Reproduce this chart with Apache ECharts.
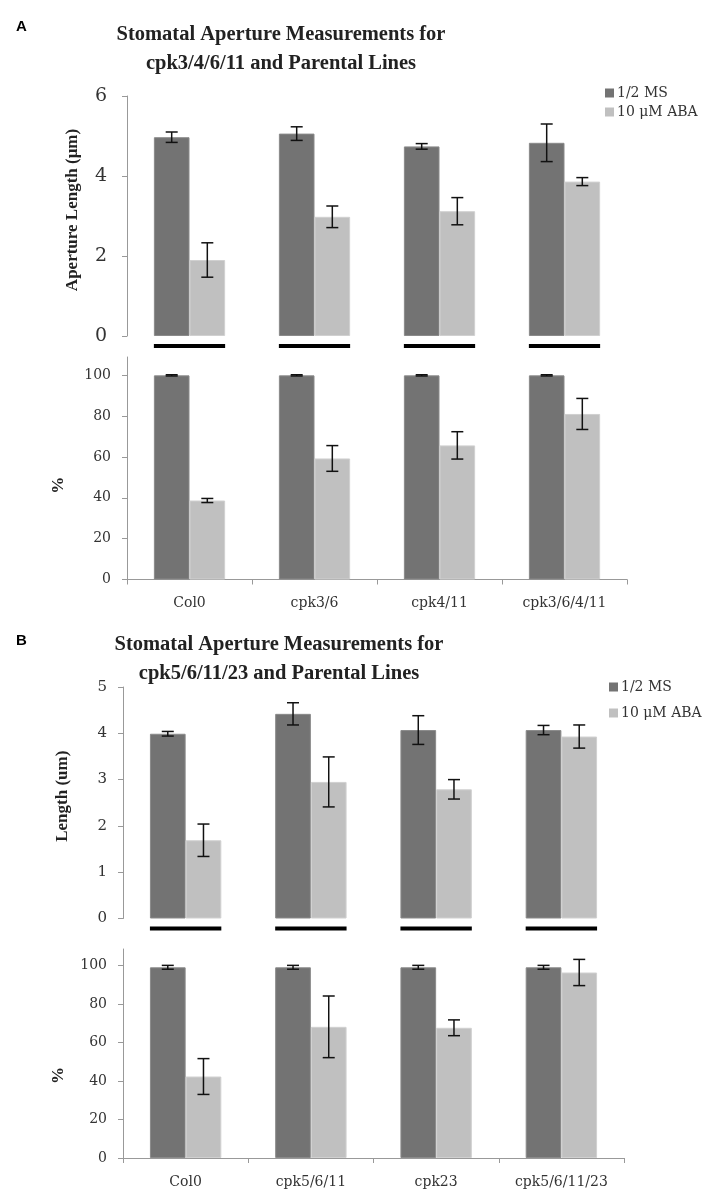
<!DOCTYPE html>
<html>
<head>
<meta charset="utf-8">
<script src="https://cdn.jsdelivr.net/npm/echarts@6/dist/echarts.min.js"></script>
<style>
html,body{margin:0;padding:0;background:#fff;}
#chart{width:702px;height:1189px;}
</style>
</head>
<body>
<div id="chart"></div>
<script>
// ---- Data ----
const seriesNames = ['1/2 MS', '10 \u03bcM ABA'];

const categoriesA = ['Col0', 'cpk3/6', 'cpk4/11', 'cpk3/6/4/11'];
const msLengthA = [4.97, 5.06, 4.74, 4.83];
const msLengthErrA = [0.13, 0.17, 0.07, 0.47];
const abaLengthA = [1.90, 2.98, 3.12, 3.86];
const abaLengthErrA = [0.43, 0.27, 0.34, 0.10];
const msPctA = [100, 100, 100, 100];
const msPctErrA = [0.3, 0.3, 0.3, 0.3];
const abaPctA = [38.7, 59.3, 65.7, 81.1];
const abaPctErrA = [1.0, 6.3, 6.7, 7.6];

const categoriesB = ['Col0', 'cpk5/6/11', 'cpk23', 'cpk5/6/11/23'];
const msLengthB = [3.99, 4.42, 4.07, 4.07];
const msLengthErrB = [0.05, 0.24, 0.31, 0.10];
const abaLengthB = [1.69, 2.95, 2.79, 3.93];
const abaLengthErrB = [0.35, 0.54, 0.21, 0.25];
const msPctB = [99, 99, 99, 99];
const msPctErrB = [1, 1, 1, 1];
const abaPctB = [42.3, 68.1, 67.6, 96.3];
const abaPctErrB = [9.3, 16.0, 4.1, 6.8];

const pctTicks = [0, 20, 40, 60, 80, 100];

// ---- Styles ----
const DARK = '#737373';
const LIGHT = '#c0c0c0';
const GAP = 0.43;
const SERIF = 'DejaVu Serif';
const TITLE_FONT = 'Liberation Serif';

const chart = echarts.init(document.getElementById('chart'));

function errSeries(gridIdx, vals, errs, side) {
  return {
    type: 'custom',
    xAxisIndex: gridIdx, yAxisIndex: gridIdx,
    z: 5, silent: true, clip: false,
    data: vals.map((v, i) => [i, v, errs[i], side]),
    renderItem: function (params, api) {
      const cat = api.value(0), v = api.value(1), e = api.value(2), s = api.value(3);
      const band = api.size([1, 0])[0];
      const bw = band * (1 - GAP) / 2;
      const cx = api.coord([cat, v])[0] + (s === 0 ? -bw / 2 : bw / 2);
      const yt = api.coord([cat, v + e])[1];
      const yb = api.coord([cat, v - e])[1];
      const hw = 6;
      const st = { stroke: '#111', lineWidth: 1.5 };
      return {
        type: 'group',
        children: [
          { type: 'line', shape: { x1: cx, y1: yt, x2: cx, y2: yb }, style: st },
          { type: 'line', shape: { x1: cx - hw, y1: yt, x2: cx + hw, y2: yt }, style: st },
          { type: 'line', shape: { x1: cx - hw, y1: yb, x2: cx + hw, y2: yb }, style: st }
        ]
      };
    }
  };
}

function underlineSeries(gridIdx, cats) {
  return {
    type: 'custom',
    xAxisIndex: gridIdx, yAxisIndex: gridIdx,
    silent: true, clip: false,
    data: cats.map((c, i) => [i, 0]),
    renderItem: function (params, api) {
      const p = api.coord([api.value(0), 0]);
      const band = api.size([1, 0])[0];
      const w = band * (1 - GAP);
      return { type: 'rect', shape: { x: p[0] - w / 2, y: p[1] + 8, width: w, height: 4 }, style: { fill: '#000' } };
    }
  };
}

function barSeries(gridIdx, name, vals, color) {
  return {
    type: 'bar', name: name,
    xAxisIndex: gridIdx, yAxisIndex: gridIdx,
    data: vals,
    barGap: '0%', barCategoryGap: (GAP * 100) + '%',
    itemStyle: { color: color, borderColor: color === DARK ? '#8a8a8a' : '#d0d0d0', borderWidth: 1 },
    silent: true
  };
}

function xAxis(gridIdx, cats, showAxis) {
  return {
    type: 'category', gridIndex: gridIdx, data: cats,
    show: showAxis,
    axisLine: { show: true, lineStyle: { color: '#999', width: 1 } },
    axisTick: { show: true, length: 5, lineStyle: { color: '#999' } },
    axisLabel: { color: '#333', fontFamily: SERIF, fontSize: 14, margin: 17 }
  };
}

function yAxis(gridIdx, opts) {
  const base = {
    type: 'value', gridIndex: gridIdx, min: 0,
    splitLine: { show: false },
    axisLine: { show: true, lineStyle: { color: '#999', width: 1 } },
    axisTick: { show: true, length: 5, inside: false, lineStyle: { color: '#999' } },
    axisLabel: { color: '#333', fontFamily: SERIF, fontSize: 14, margin: 15 },
    nameLocation: 'middle',
    nameRotate: 90,
    nameTextStyle: { fontFamily: TITLE_FONT, fontWeight: 'bold', fontSize: 17, color: '#222' }
  };
  return Object.assign(base, opts);
}

const legendText = { fontFamily: SERIF, fontSize: 14, color: '#333', padding: [0, 0, 0, -2] };

const option = {
  animation: false,
  backgroundColor: '#fff',
  title: [
    { text: 'A', left: 11, top: 14, textStyle: { fontFamily: 'Liberation Sans', fontWeight: 'bold', fontSize: 15, color: '#000' } },
    { text: 'Stomatal Aperture Measurements for\ncpk3/4/6/11 and Parental Lines', left: 276, top: 15, textAlign: 'center',
      textStyle: { fontFamily: TITLE_FONT, fontWeight: 'bold', fontSize: 20.5, lineHeight: 29, color: '#222' } },
    { text: 'B', left: 11, top: 628, textStyle: { fontFamily: 'Liberation Sans', fontWeight: 'bold', fontSize: 15, color: '#000' } },
    { text: 'Stomatal Aperture Measurements for\ncpk5/6/11/23 and Parental Lines', left: 274, top: 625, textAlign: 'center',
      textStyle: { fontFamily: TITLE_FONT, fontWeight: 'bold', fontSize: 20.5, lineHeight: 29, color: '#222' } }
  ],
  legend: [
    { data: seriesNames, orient: 'vertical', left: 600, top: 81, icon: 'rect', itemWidth: 9, itemHeight: 9, itemGap: 5,
      itemStyle: { borderWidth: 0 }, textStyle: legendText },
    { data: seriesNames, orient: 'vertical', left: 604, top: 675, icon: 'rect', itemWidth: 9, itemHeight: 9, itemGap: 12,
      itemStyle: { borderWidth: 0 }, textStyle: legendText }
  ],
  grid: [
    { left: 127, top: 96, width: 500, height: 240 },
    { left: 127, top: 357, width: 500, height: 222.5 },
    { left: 123, top: 687, width: 501, height: 231.5 },
    { left: 123, top: 949, width: 501, height: 209 }
  ],
  xAxis: [
    xAxis(0, categoriesA, false),
    xAxis(1, categoriesA, true),
    xAxis(2, categoriesB, false),
    xAxis(3, categoriesB, true)
  ],
  yAxis: [
    yAxis(0, { max: 6, interval: 2, name: 'Aperture Length (\u03bcm)', nameGap: 46,
      axisLabel: { color: '#333', fontFamily: SERIF, fontSize: 19, margin: 20 },
      nameTextStyle: { fontFamily: TITLE_FONT, fontWeight: 'bold', fontSize: 17, color: '#222', padding: [0, 0, 0, 12] } }),
    yAxis(1, { max: 109, name: '%', nameGap: 60,
      axisTick: { show: true, length: 5, customValues: pctTicks, lineStyle: { color: '#999' } },
      axisLabel: { color: '#333', fontFamily: SERIF, fontSize: 14, margin: 16, customValues: pctTicks },
      nameTextStyle: { fontFamily: TITLE_FONT, fontWeight: 'bold', fontSize: 17, color: '#222', padding: [0, 34, 0, 0] } }),
    yAxis(2, { max: 5, interval: 1, name: 'Length (um)', nameGap: 52,
      axisLabel: { color: '#333', fontFamily: SERIF, fontSize: 15, margin: 16 },
      nameTextStyle: { fontFamily: TITLE_FONT, fontWeight: 'bold', fontSize: 17, color: '#222', padding: [0, 0, 0, 13] } }),
    yAxis(3, { max: 108.5, name: '%', nameGap: 56,
      axisTick: { show: true, length: 5, customValues: pctTicks, lineStyle: { color: '#999' } },
      axisLabel: { color: '#333', fontFamily: SERIF, fontSize: 14, margin: 16, customValues: pctTicks },
      nameTextStyle: { fontFamily: TITLE_FONT, fontWeight: 'bold', fontSize: 17, color: '#222', padding: [0, 44, 0, 0] } })
  ],
  series: [
    barSeries(0, seriesNames[0], msLengthA, DARK),
    barSeries(0, seriesNames[1], abaLengthA, LIGHT),
    errSeries(0, msLengthA, msLengthErrA, 0),
    errSeries(0, abaLengthA, abaLengthErrA, 1),
    underlineSeries(0, categoriesA),

    barSeries(1, seriesNames[0], msPctA, DARK),
    barSeries(1, seriesNames[1], abaPctA, LIGHT),
    errSeries(1, msPctA, msPctErrA, 0),
    errSeries(1, abaPctA, abaPctErrA, 1),

    barSeries(2, seriesNames[0], msLengthB, DARK),
    barSeries(2, seriesNames[1], abaLengthB, LIGHT),
    errSeries(2, msLengthB, msLengthErrB, 0),
    errSeries(2, abaLengthB, abaLengthErrB, 1),
    underlineSeries(2, categoriesB),

    barSeries(3, seriesNames[0], msPctB, DARK),
    barSeries(3, seriesNames[1], abaPctB, LIGHT),
    errSeries(3, msPctB, msPctErrB, 0),
    errSeries(3, abaPctB, abaPctErrB, 1)
  ]
};
chart.setOption(option);
</script>
</body>
</html>
